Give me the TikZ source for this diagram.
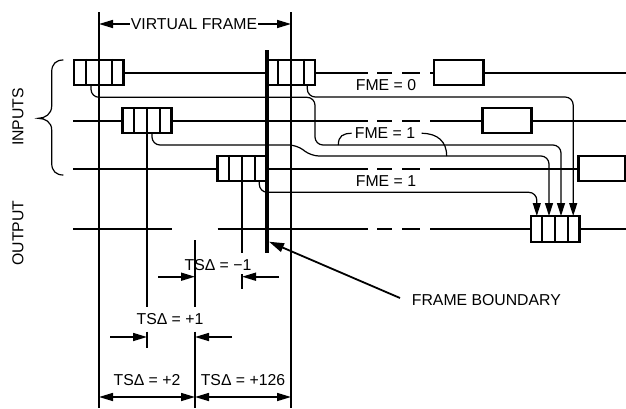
\documentclass[tikz,border=0pt]{standalone}
\usepackage{fontspec}
\setmainfont{Liberation Sans}
\usetikzlibrary{arrows.meta,calc}
\begin{document}
\begin{tikzpicture}[x=1pt,y=-1pt,
  mainline/.style={line width=2pt},
  cellline/.style={line width=2.2pt},
  route/.style={line width=1.2pt},
  frameline/.style={line width=1.6pt},
  qbox/.style={draw,line width=2.4pt,rectangle,inner sep=0pt,minimum height=25pt},
  dimtip/.style={-{Triangle[length=14pt,width=8pt]}},
  rtip/.style={-{Triangle[length=13pt,width=8pt]}},
  lbl/.style={font=\fontsize{15.8}{18}\selectfont,inner sep=1pt}]
\useasboundingbox (0,0) rectangle (626,408);

% boxes
\node[qbox,minimum width=49.3pt] (b1) at (98.7,72.5) {};
\node[qbox,minimum width=48.3pt] (b1p) at (291,72.5) {};
\node[qbox,minimum width=49.3pt] (b1r) at (458.7,72.5) {};
\node[qbox,minimum width=49.3pt] (b2) at (147,120.7) {};
\node[qbox,minimum width=49.3pt] (b2r) at (507,120.7) {};
\node[qbox,minimum width=49.4pt] (b3) at (242,168.5) {};
\node[qbox,minimum width=46.7pt] (b3r) at (601.7,168.5) {};
\node[qbox,minimum width=48.6pt,minimum height=25.7pt] (ob) at (555,229) {};
\foreach \b in {b1,b1p,b2,b3,ob}
  \foreach \i in {1,2,3}
    \draw[cellline] ($(\b.north west)!\i/4!(\b.north east)$) -- ($(\b.south west)!\i/4!(\b.south east)$);

% coordinates
\coordinate (l2s) at (73,120.7);
\coordinate (l3s) at (73,168.5);
\coordinate (os) at (73,229);
\coordinate (ogl) at (171.7,229);
\coordinate (ogr) at (217.7,229);

% main lines
\draw[mainline] (b1.east) -- (b1p.west);
\draw[mainline] (b1p.east) -- (368,72.5);
\draw[mainline] (430,72.5) -- (b1r.west);
\draw[mainline] (b1r.east) -- (626,72.5);
\draw[mainline] (l2s) -- (b2.west);
\draw[mainline] (b2.east) -- (368,120.7);
\draw[mainline] (430,120.7) -- (b2r.west);
\draw[mainline] (b2r.east) -- (626,120.7);
\draw[mainline] (l3s) -- (b3.west);
\draw[mainline] (b3.east) -- (368,168.5);
\draw[mainline] (430,168.5) -- (b3r.west);
\draw[mainline] (os) -- (ogl);
\draw[mainline] (ogr) -- (368,229);
\draw[mainline] (430,229) -- (ob.west);
\draw[mainline] (ob.east) -- (626,229);
\foreach \y in {72.5,120.7,168.5,229}{
  \draw[mainline] (377,\y) -- (392,\y);
  \draw[mainline] (402,\y) -- (420,\y);
}

% routing lines
\draw[route,rtip,rounded corners=8pt] (91,85) |- (315,97.3) |- (561,145) -- (561,216);
\draw[route,rtip,rounded corners=8pt] (307.3,85) |- (573.2,97) -- (573.2,216);
\draw[route,rtip,rounded corners=8pt] (152,133.3) |- (297,145) -- (311,156) -| (549,216);
\draw[route,rtip,rounded corners=8pt] (259.3,181) |- (536.8,192.3) -- (536.8,216);

% FME bracket
\draw[route] (338.3,145) .. controls (338.3,136) and (343,133.3) .. (351.7,133.3);
\draw[route] (421.7,133.3) .. controls (438,133.3) and (446.7,142) .. (446.7,156);

% frame verticals
\draw[frameline] (99,12) -- (99,408);
\draw[frameline] (291,12) -- (291,408);
\draw[line width=4pt] (266.7,50) -- (266.7,253);

% TS verticals
\draw[frameline] (b2.south) -- (147,306.7);
\draw[frameline] (147,331.7) -- (147,348.3);
\draw[frameline] (195,240) -- (195,306.7);
\draw[frameline] (195,331.7) -- (195,408);
\draw[frameline] (b3.south) -- (242,253);
\draw[frameline] (242,274) -- (242,289.3);

% labels
\node[lbl] (vf) at (194,24) {VIRTUAL FRAME};
\draw[frameline,dimtip] (vf.west) -- (99,24);
\draw[frameline,dimtip] (vf.east) -- (291,24);

\node[lbl] (f0) at (386,85) {FME = 0};
\node[lbl] (f1) at (385,133) {FME = 1};
\node[lbl] (f2) at (386,181) {FME = 1};

\node[lbl,rotate=90] (inp) at (18,117) {INPUTS};
\node[lbl,rotate=90] (outp) at (18,233) {OUTPUT};
\draw[route] (63.3,60) .. controls (56,60) and (51.7,64) .. (51.7,72) -- (51.7,106)
  .. controls (51.7,114) and (45,118.3) .. (38.3,118.3)
  .. controls (45,118.3) and (51.7,122) .. (51.7,130) -- (51.7,163)
  .. controls (51.7,171) and (56,175) .. (63.3,175);

\node[lbl] (tm1) at (218,265) {TSΔ = −1};
\node[lbl] (tp1) at (170,319.5) {TSΔ = +1};
\node[lbl] (tp2) at (147,380) {TSΔ = +2};
\node[lbl] (tp126) at (243,380) {TSΔ = +126};

\draw[frameline,dimtip] (158.3,276.7) -- (195,276.7);
\draw[frameline,dimtip] (279,276.7) -- (242,276.7);
\draw[frameline,dimtip] (110,337) -- (147,337);
\draw[frameline,dimtip] (232,337) -- (195,337);
\draw[frameline,{Triangle[length=14pt,width=8pt]}-{Triangle[length=14pt,width=8pt]}] (99,397) -- (195,397);
\draw[frameline,{Triangle[length=14pt,width=8pt]}-{Triangle[length=14pt,width=8pt]}] (195,397) -- (291,397);

\node[lbl,anchor=west] (fb) at (410.7,300) {FRAME BOUNDARY};
\coordinate (fbt) at (269,241.7);
\draw[line width=1.8pt,-{Triangle[length=15pt,width=9pt]}] (400,298) -- (fbt);
\end{tikzpicture}
\end{document}
